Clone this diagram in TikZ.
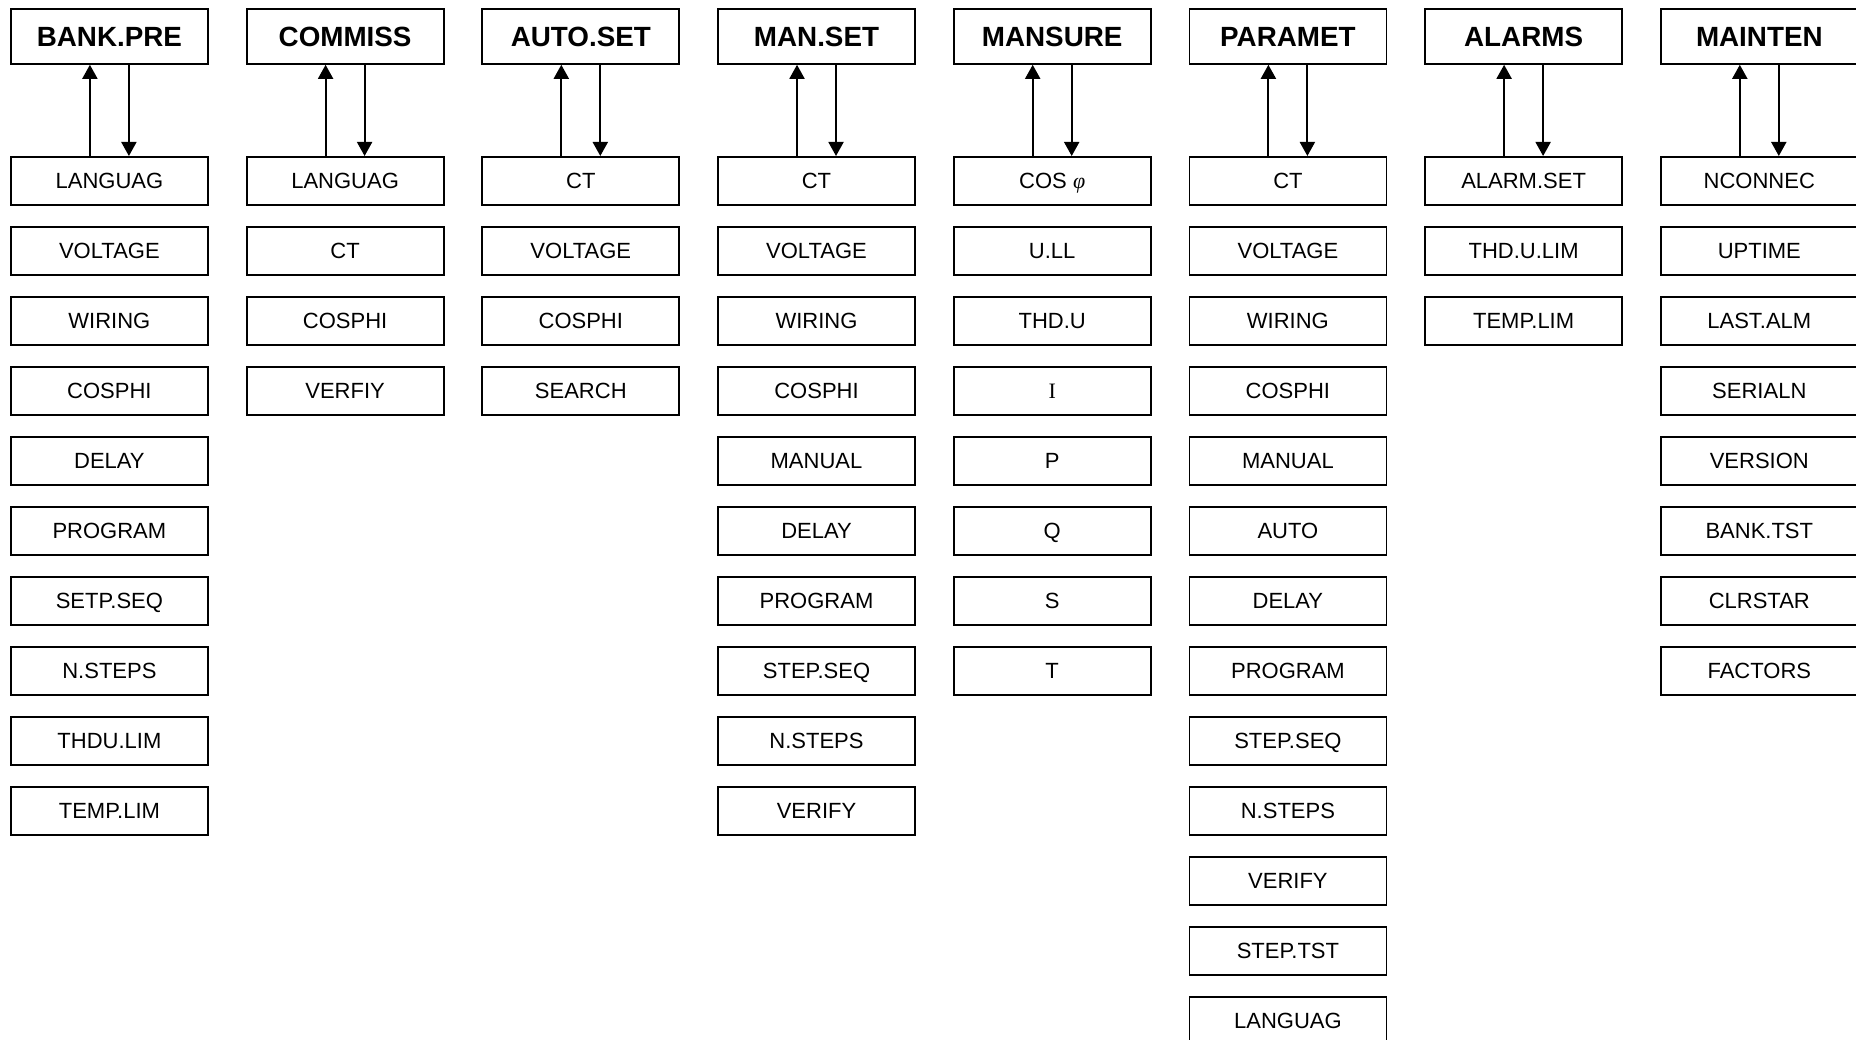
\documentclass[tikz,border=0pt]{standalone}
\usepackage{fontspec}
\setmainfont{Liberation Sans}
\newfontfamily\timesfont{Liberation Serif}
\usepackage{tikz}
\usetikzlibrary{arrows.meta}

\tikzset{
	menuhead/.style={draw, line width=1.8pt, minimum width=197pt, minimum height=55pt,
		inner sep=0pt, anchor=north west, font=\fontsize{27.8}{30}\selectfont\bfseries,
		text height=19.5pt, text depth=0pt},
	menuitem/.style={draw, line width=1.8pt, minimum width=197pt, minimum height=48pt,
		inner sep=0pt, anchor=north west, font=\fontsize{22}{24}\selectfont,
		text height=15.5pt, text depth=0pt},
	menuarrow/.style={line width=1.9pt, -{Triangle[length=14pt,width=15pt]}}
}

\begin{document}
\begin{tikzpicture}[x=1pt,y=-1pt]
		\path[use as bounding box] (0,0) rectangle (1856,1040);
		\clip (0,0) rectangle (1856,1040);
		% one column per menu: header, sub-items, arrows in and out
		\foreach \col/\head/\items in {
			0/BANK.PRE/{LANGUAG,VOLTAGE,WIRING,COSPHI,DELAY,PROGRAM,SETP.SEQ,N.STEPS,THDU.LIM,TEMP.LIM},
			1/COMMISS/{LANGUAG,CT,COSPHI,VERFIY},
			2/AUTO.SET/{CT,VOLTAGE,COSPHI,SEARCH},
			3/MAN.SET/{CT,VOLTAGE,WIRING,COSPHI,MANUAL,DELAY,PROGRAM,STEP.SEQ,N.STEPS,VERIFY},
			4/MANSURE/{COS {\timesfont\itshape φ},U.LL,THD.U,{\timesfont I},P,Q,S,T},
			5/PARAMET/{CT,VOLTAGE,WIRING,COSPHI,MANUAL,AUTO,DELAY,PROGRAM,STEP.SEQ,N.STEPS,VERIFY,STEP.TST,LANGUAG},
			6/ALARMS/{ALARM.SET,THD.U.LIM,TEMP.LIM},
			7/MAINTEN/{NCONNEC,UPTIME,LAST.ALM,SERIALN,VERSION,BANK.TST,CLRSTAR,FACTORS}}{
			\node[menuhead] (hd\col) at (10+235.7*\col,8) {\head};
			\foreach \txt [count=\r] in \items
				\node[menuitem] (it\col-\r) at (10+235.7*\col,86+70*\r) {\txt};
			\draw[menuarrow] ([xshift=-19.5pt]it\col-1.north) -- ([xshift=-19.5pt]hd\col.south);
			\draw[menuarrow] ([xshift=19.5pt]hd\col.south) -- ([xshift=19.5pt]it\col-1.north);
		}
	\end{tikzpicture}
\end{document}
